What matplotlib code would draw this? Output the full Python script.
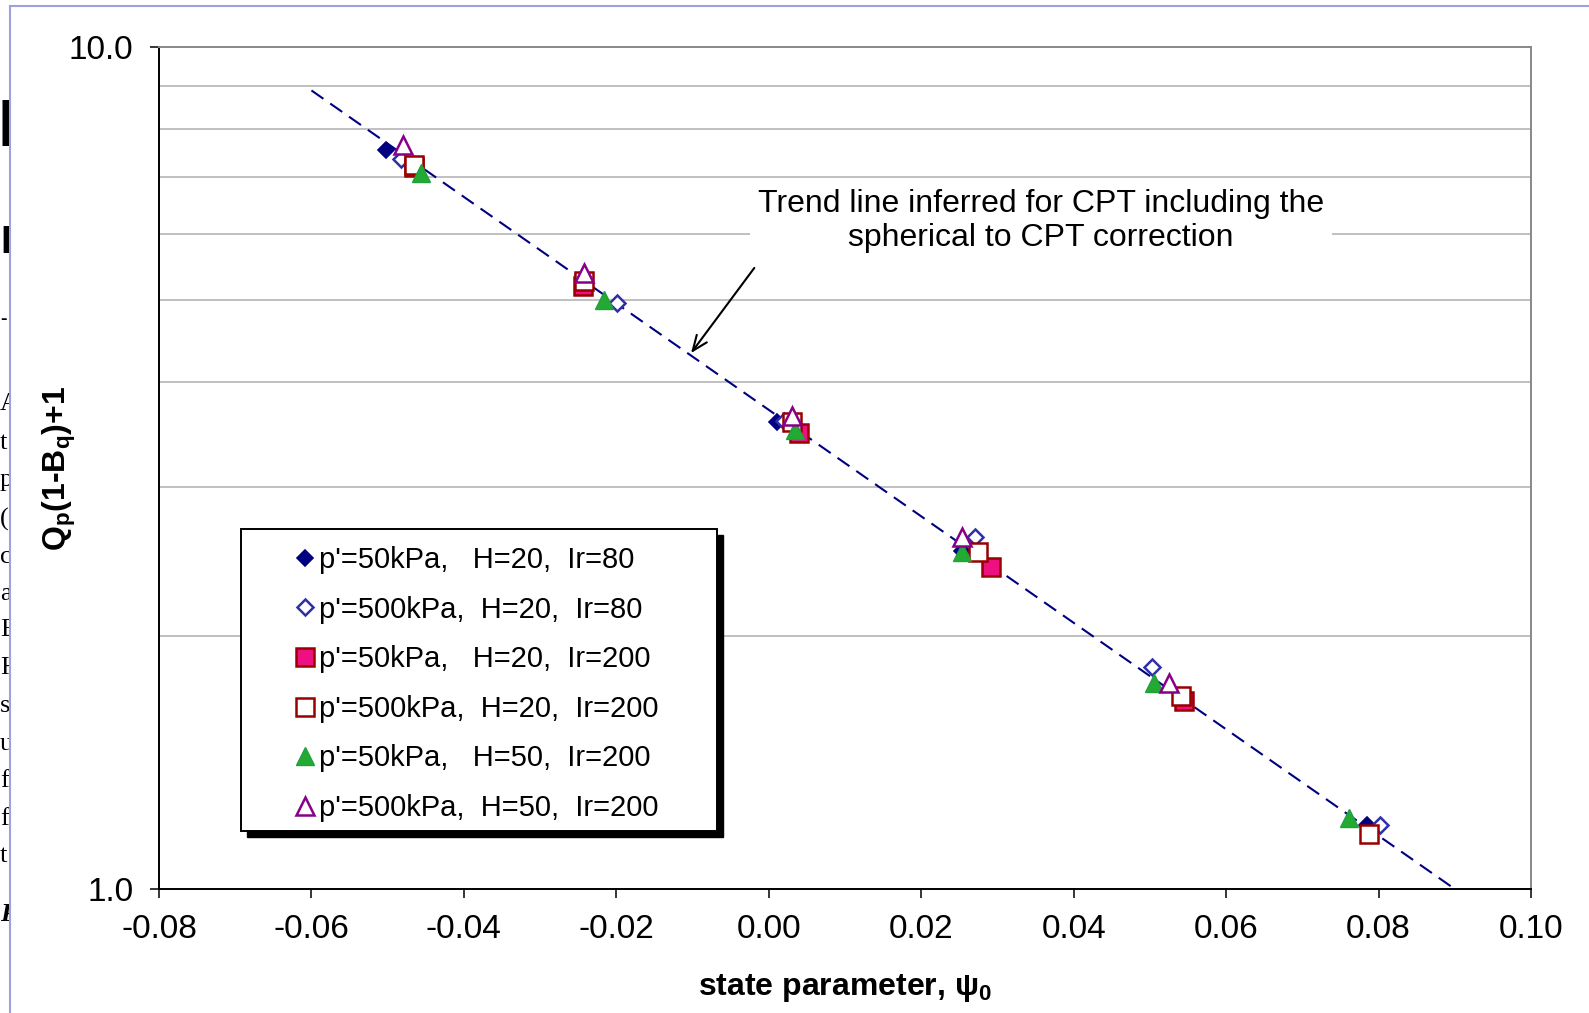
import matplotlib
matplotlib.use('Agg')
import matplotlib.pyplot as plt
from matplotlib.lines import Line2D
from matplotlib.patches import Rectangle

plt.rcParams['font.family'] = ['Liberation Sans', 'DejaVu Sans']
plt.rcParams['mathtext.fontset'] = 'custom'
plt.rcParams['mathtext.rm'] = 'Liberation Sans'
plt.rcParams['mathtext.bf'] = 'Liberation Sans:bold'

# ---------------- data ----------------
labels = ["p'=50kPa,   H=20,  Ir=80",
          "p'=500kPa,  H=20,  Ir=80",
          "p'=50kPa,   H=20,  Ir=200",
          "p'=500kPa,  H=20,  Ir=200",
          "p'=50kPa,   H=50,  Ir=200",
          "p'=500kPa,  H=50,  Ir=200"]

s1_x = [-0.0502, 0.0011, 0.0254, 0.0785]
s1_y = [7.54, 3.59, 2.52, 1.19]
s2_x = [-0.0482, -0.0199, 0.0020, 0.0270, 0.0503, 0.0802]
s2_y = [7.37, 4.96, 3.60, 2.62, 1.834, 1.19]
s3_x = [-0.0466, -0.0244, 0.0039, 0.0291, 0.0545]
s3_y = [7.20, 5.20, 3.48, 2.41, 1.674]
s4_x = [-0.0466, -0.0243, 0.0030, 0.0275, 0.0541, 0.0787]
s4_y = [7.25, 5.27, 3.59, 2.51, 1.693, 1.161]
s5_x = [-0.0456, -0.0216, 0.0034, 0.0254, 0.0505, 0.0761]
s5_y = [7.09, 5.00, 3.51, 2.51, 1.755, 1.214]
s6_x = [-0.0480, -0.0243, 0.0030, 0.0254, 0.0525]
s6_y = [7.65, 5.39, 3.65, 2.62, 1.755]

trend_x = [-0.06, 0.09]
trend_y = [8.88, 1.0]

x_ticks = [-0.08, -0.06, -0.04, -0.02, 0.00, 0.02, 0.04, 0.06, 0.08, 0.10]
x_tick_labels = ['-0.08', '-0.06', '-0.04', '-0.02', '0.00', '0.02', '0.04', '0.06', '0.08', '0.10']
y_ticks = [1, 10]
y_tick_labels = ['1.0', '10.0']
y_grid = [2, 3, 4, 5, 6, 7, 8, 9]

annot_text = "Trend line inferred for CPT including the\nspherical to CPT correction"
arrow_tail = (-0.0019, 5.465)
arrow_head = (-0.0102, 4.33)

side_letters = ['A', 't', 'p', '(', 'c', 'a', 'E', 'H', 's', 'u', 'f', 'f', 't', 'R']
side_letter_y = [404, 443, 480, 519, 557, 594, 630, 668, 706, 744, 781, 819, 856, 914]

# ---------------- figure ----------------
W, H = 1589, 1013
fig = plt.figure(figsize=(W / 100, H / 100), dpi=100)
ax = fig.add_axes([159 / W, 1 - 889 / H, (1531 - 159) / W, (889 - 47) / H])

ax.set_yscale('log')
ax.set_xlim(-0.08, 0.10)
ax.set_ylim(1, 10)

ax.plot(trend_x, trend_y, color='#000080', lw=1.5, ls=(0, (7, 4)), zorder=2)

navy = '#000080'
dred = '#990000'
ms_d, ms_s, ms_t = 8.5, 13, 13
series = [
    (s1_x, s1_y, dict(marker='D', ms=ms_d, mfc=navy, mec=navy, mew=1.2)),
    (s2_x, s2_y, dict(marker='D', ms=ms_d, mfc='white', mec='#3030a8', mew=1.8)),
    (s3_x, s3_y, dict(marker='s', ms=ms_s, mfc='#EE1080', mec=dred, mew=1.8)),
    (s4_x, s4_y, dict(marker='s', ms=ms_s, mfc='white', mec=dred, mew=1.8)),
    (s5_x, s5_y, dict(marker='^', ms=ms_t, mfc='#22AA33', mec='#22A040', mew=1.0)),
    (s6_x, s6_y, dict(marker='^', ms=ms_t, mfc='white', mec='#880088', mew=1.8)),
]
handles = []
for i, (xs, ys, st) in enumerate(series):
    h, = ax.plot(xs, ys, ls='none', zorder=3 + i * 0.1, label=labels[i], **st)
    handles.append(h)

# axes styling
ax.set_xticks(x_ticks)
ax.set_xticklabels(x_tick_labels)
ax.set_yticks(y_ticks)
ax.set_yticklabels(y_tick_labels)
ax.set_yticks(y_grid, minor=True)
ax.yaxis.set_minor_formatter(matplotlib.ticker.NullFormatter())
ax.tick_params(axis='y', which='minor', length=0)
ax.tick_params(axis='both', which='major', labelsize=24, direction='out',
               length=6.5, width=1.1, color='black')
ax.tick_params(axis='y', which='major', pad=12)
ax.tick_params(axis='x', which='major', pad=11.5)
ax.grid(True, axis='y', which='minor', color='#c0c0c0', lw=1.4)
ax.set_axisbelow(True)

for sp in ['left', 'bottom']:
    ax.spines[sp].set_color('black')
    ax.spines[sp].set_linewidth(1.4)
for sp in ['top', 'right']:
    ax.spines[sp].set_color('#888888')
    ax.spines[sp].set_linewidth(1.4)

ax.set_xlabel('state parameter, ψ$_\\mathbf{0}$', fontsize=23, fontweight='bold')
ax.set_ylabel('Q$_\\mathbf{p}$(1-B$_\\mathbf{q}$)+1', fontsize=23, fontweight='bold')
ax.xaxis.set_label_coords(0.5, (889 - 972) / 842)
ax.yaxis.set_label_coords((78 - 159) / 1372, 0.5)

# annotation
ax.text((1041 - 159) / 1372, (889 - 221) / 842, annot_text, transform=ax.transAxes,
        ha='center', va='center', ma='center', fontsize=23, zorder=6,
        bbox=dict(facecolor='white', edgecolor='none', pad=6))
ax.annotate('', xy=arrow_head, xytext=arrow_tail,
            arrowprops=dict(arrowstyle='->,head_length=1.1,head_width=0.45',
                            color='black', lw=1.5, shrinkA=0, shrinkB=0), zorder=6)

# legend box with shadow
bx0, bx1 = (241 - 159) / 1372, (717 - 159) / 1372
by0, by1 = (889 - 831) / 842, (889 - 529) / 842
dx, dy = 6 / 1372, 6 / 842
ax.add_patch(Rectangle((bx0 + dx, by0 - dy), bx1 - bx0, by1 - by0, transform=ax.transAxes,
                       facecolor='black', edgecolor='black', zorder=6.5))
ax.add_patch(Rectangle((bx0, by0), bx1 - bx0, by1 - by0, transform=ax.transAxes,
                       facecolor='white', edgecolor='black', lw=1.4, zorder=6.6))
leg = ax.legend(handles=handles, loc='upper left',
                bbox_to_anchor=((290 - 159) / 1372, (889 - 546) / 842),
                frameon=False, fontsize=21, handlelength=1.0, handletextpad=0.0,
                borderpad=0, borderaxespad=0, labelspacing=0.74, markerscale=1.0)
leg.set_zorder(7)

# page remnants: lavender frame and clipped text at left
frame_col = '#a0a0e0'
fig.add_artist(Line2D([10 / W, 10 / W], [0, 1 - 6 / H], color=frame_col, lw=1.5))
fig.add_artist(Line2D([10 / W, 1], [1 - 6 / H, 1 - 6 / H], color=frame_col, lw=1.5))
side = fig.add_axes([0, 0, 9.5 / W, 1])
side.set_axis_off()
side.set_xlim(0, 9.5)
side.set_ylim(H, 0)
for ch, yy in zip(side_letters, side_letter_y):
    side.text(0, yy, ch, family=['Liberation Serif', 'DejaVu Serif'], fontsize=19,
              ha='left', va='center', clip_on=True,
              style='italic' if ch == 'R' else 'normal',
              fontweight='bold' if ch == 'R' else 'normal')
side.text(-3, 129, 'I', fontsize=48, fontweight='bold', ha='left', va='center', clip_on=True)
side.text(0, 243, 'I', fontsize=28, fontweight='bold', ha='left', va='center', clip_on=True)
side.text(0.5, 319, '-', fontsize=14, fontweight='bold', ha='left', va='center', clip_on=True)

fig.savefig('out.png', dpi=100)
